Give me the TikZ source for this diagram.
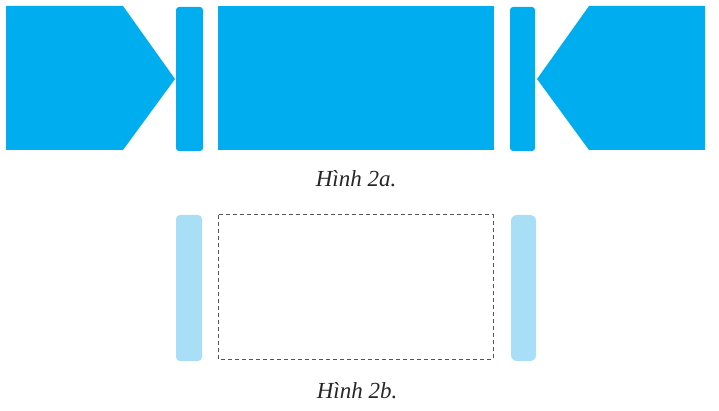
\documentclass[tikz,border=0pt]{standalone}
\usepackage{fontspec}
\setmainfont{Liberation Serif}
\definecolor{cblue}{HTML}{00AEEF}
\definecolor{lblue}{HTML}{A8DEF6}
\definecolor{dgray}{HTML}{555555}
\begin{document}
\begin{tikzpicture}[x=1pt,y=-1pt,
  piece/.style={fill=cblue,draw=none},
  bar/.style={fill=cblue,draw=none,rounded corners=3pt},
  lbar/.style={fill=lblue,draw=none,rounded corners=4pt},
  outline/.style={draw=dgray,line width=1pt,dash pattern=on 4pt off 3pt},
  caption/.style={font=\itshape\fontsize{23}{27}\selectfont,text=black!85,inner sep=0pt}]
\useasboundingbox (0,0) rectangle (719,411);
% Hinh 2a
\fill[piece] (6,6) -- (123,6) -- (175,79) -- (123,150) -- (6,150) -- cycle;
\fill[bar] (176,7) rectangle (203,151);
\fill[piece] (218,6) rectangle (494,150);
\fill[bar] (510,7) rectangle (535,151);
\fill[piece] (705,6) -- (589,6) -- (537,79) -- (589,150) -- (705,150) -- cycle;
\node[caption] (capa) at (356,179) {Hình 2a.};
% Hinh 2b
\fill[lbar] (176,215) rectangle (202,361);
\draw[outline] (218,215) rectangle (493,359);
\fill[lbar,rounded corners=6pt] (511,215) rectangle (536,361);
\node[caption] (capb) at (357,391) {Hình 2b.};
\end{tikzpicture}
\end{document}
